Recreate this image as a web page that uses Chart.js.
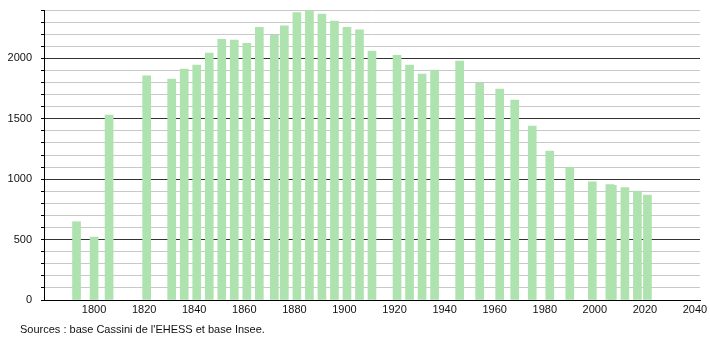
<!DOCTYPE html>
<html lang="fr">
<head>
  <meta charset="UTF-8">
  <title>Évolution démographique</title>
  <script src="https://cdn.jsdelivr.net/npm/chart.js"></script>
  <style>
    body {
      margin: 0;
      background: #fff;
      font-family: 'Liberation Sans', Arial, sans-serif;
    }
    .wrap {
      position: relative;
      width: 710px;
      height: 340px;
    }
    .source {
      position: absolute;
      left: 20px;
      top: 323px;
      font-size: 11px;
      color: #111;
    }
  </style>
</head>
<body>
  <div class="wrap">
    <canvas id="chart" width="710" height="340"></canvas>
    <div class="source">Sources : base Cassini de l'EHESS et base Insee.</div>
  </div>
  <script>
    // années des recensements et population
    const years = [1793, 1800, 1806, 1821, 1831, 1836, 1841, 1846, 1851, 1856,
                   1861, 1866, 1872, 1876, 1881, 1886, 1891, 1896, 1901, 1906,
                   1911, 1921, 1926, 1931, 1936, 1946, 1954, 1962, 1968, 1975,
                   1982, 1990, 1999, 2006, 2007, 2012, 2017, 2021];
    const population = [648, 521, 1531, 1855, 1829, 1912, 1945, 2044, 2157, 2152,
                        2124, 2257, 2190, 2268, 2378, 2395, 2367, 2309, 2257, 2235,
                        2061, 2025, 1945, 1870, 1903, 1978, 1793, 1746, 1655, 1440,
                        1233, 1095, 977, 955, 950, 930, 902, 869];
    const xTicks = [1800, 1820, 1840, 1860, 1880, 1900, 1920, 1940, 1960, 1980, 2000, 2020, 2040];
    const yLabels = [0, 500, 1000, 1500, 2000];

    const points = years.map((y, i) => ({ x: y, y: population[i] }));
    const font = { family: "'Liberation Sans', Arial, sans-serif", size: 11 };

    new Chart(document.getElementById('chart'), {
      type: 'bar',
      data: {
        datasets: [{
          data: points,
          backgroundColor: 'rgb(174, 226, 174)',
          borderWidth: 0,
          barThickness: 8
        }]
      },
      options: {
        responsive: false,
        animation: false,
        layout: { padding: { top: 10, right: 10, left: 0, bottom: 0 } },
        plugins: { legend: { display: false }, tooltip: { enabled: false } },
        scales: {
          x: {
            type: 'linear',
            min: 1780,
            max: 2042,
            offset: false,
            afterBuildTicks: s => { s.ticks = xTicks.map(v => ({ value: v })); },
            afterFit: s => { s.height = 40; s.paddingLeft = 0; s.paddingRight = 0; },
            grid: { display: false, drawTicks: false },
            border: { display: true, color: '#000', width: 1 },
            ticks: {
              font: font,
              color: '#111',
              padding: 3,
              maxRotation: 0,
              autoSkip: false,
              callback: v => String(v)
            }
          },
          y: {
            min: 0,
            max: 2400,
            afterFit: s => { s.width = 44; s.paddingTop = 0; s.paddingBottom = 0; },
            grid: {
              color: c => (c.tick && c.tick.value % 500 === 0) ? '#333' : '#c8c8c8',
              tickColor: '#000',
              tickLength: 3,
              lineWidth: 1
            },
            border: { display: true, color: '#000', width: 1 },
            ticks: {
              stepSize: 100,
              autoSkip: false,
              font: font,
              color: '#111',
              padding: 9,
              callback: v => yLabels.includes(v) ? String(v) : ''
            }
          }
        }
      }
    });
  </script>
</body>
</html>
